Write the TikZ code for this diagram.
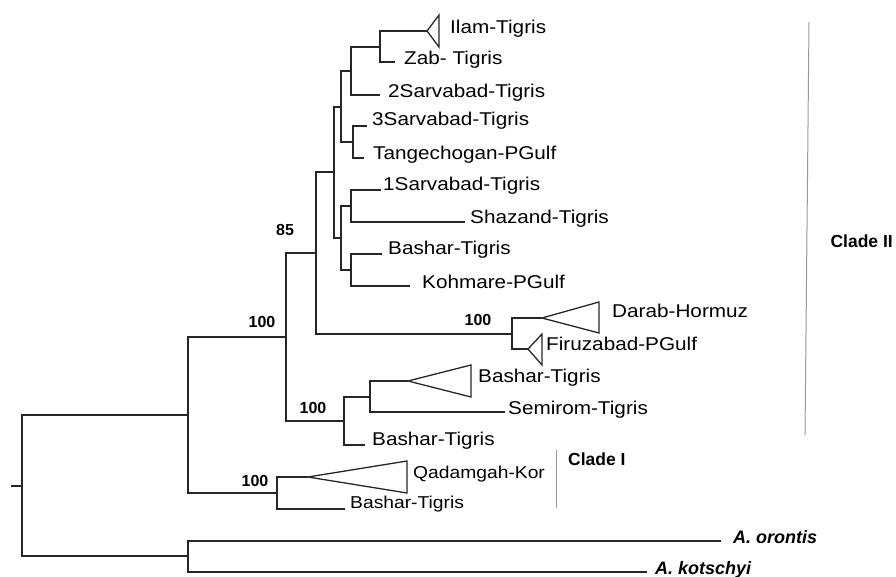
\documentclass[tikz,border=0pt]{standalone}
\usepackage{fontspec}
\setmainfont{Liberation Sans}
\newfontfamily\taxfont{Liberation Sans}[FakeStretch=1.12]
\begin{document}
\begin{tikzpicture}[x=1pt,y=-1pt,
  br/.style={draw=black!85,line width=1.3pt,line join=miter},
  tri/.style={draw=black!85,line width=1.3pt,line join=miter},
  cladeline/.style={draw=black!40,line width=1pt},
  taxon/.style={anchor=mid west,inner sep=0pt,font=\taxfont\fontsize{18.5}{20}\selectfont},
  taxonc/.style={anchor=mid west,inner sep=0pt,font=\taxfont\fontsize{17.2}{19}\selectfont},
  outg/.style={anchor=mid west,inner sep=0pt,font=\fontsize{18}{20}\selectfont\bfseries\itshape},
  boot/.style={inner sep=0pt,font=\fontsize{16}{18}\selectfont\bfseries},
  cladelab/.style={inner sep=0pt,font=\fontsize{17.5}{19}\selectfont\bfseries}]
\useasboundingbox (0,0) rectangle (896,577);
% internal nodes
\coordinate (root) at (22,486);
\coordinate (tick) at (11,486);
\coordinate (n1) at (188,415);
\coordinate (nOut) at (188,556);
\coordinate (n2) at (286,337);
\coordinate (nQ) at (277,493);
\coordinate (n3) at (316,253);
\coordinate (nL) at (344,421);
\coordinate (n4) at (334,172);
\coordinate (nDF) at (512,334);
\coordinate (n5) at (341,107);
\coordinate (n9) at (341,238);
\coordinate (n6) at (351,71);
\coordinate (n8) at (353,142);
\coordinate (n7) at (380,47);
\coordinate (n10) at (351,206);
\coordinate (n11) at (351,270);
\coordinate (nBS) at (370,397);
% tips
\coordinate (tIlam) at (427,31);
\coordinate (tZab) at (395,62);
\coordinate (t2S) at (380,95);
\coordinate (t3S) at (367,126);
\coordinate (tTa) at (364,158);
\coordinate (t1S) at (381,190);
\coordinate (tSh) at (465,222);
\coordinate (tBa) at (382,254);
\coordinate (tKo) at (410,286);
\coordinate (tDa) at (542,318);
\coordinate (tFi) at (528,349);
\coordinate (tBt) at (408,381);
\coordinate (tSe) at (505,412);
\coordinate (tBl) at (365,445);
\coordinate (tQa) at (308,477);
\coordinate (tBq) at (345,509);
\coordinate (tOr) at (721,541);
\coordinate (tKs) at (647,572);
% branches
\draw[br] (tick) -- (root);
\draw[br] (n1) -| (root) |- (nOut);
\draw[br] (n2) -| (n1) |- (nQ);
\draw[br] (tOr) -| (nOut) |- (tKs);
\draw[br] (n3) -| (n2) |- (nL);
\draw[br] (tQa) -| (nQ) |- (tBq);
\draw[br] (n4) -| (n3) |- (nDF);
\draw[br] (nBS) -| (nL) |- (tBl);
\draw[br] (tBt) -| (nBS) |- (tSe);
\draw[br] (tDa) -| (nDF) |- (tFi);
\draw[br] (n5) -| (n4) |- (n9);
\draw[br] (n6) -| (n5) |- (n8);
\draw[br] (n7) -| (n6) |- (t2S);
\draw[br] (tIlam) -| (n7) |- (tZab);
\draw[br] (t3S) -| (n8) |- (tTa);
\draw[br] (n10) -| (n9) |- (n11);
\draw[br] (t1S) -| (n10) |- (tSh);
\draw[br] (tBa) -| (n11) |- (tKo);
% collapsed clades
\draw[tri] (tIlam) -- (439,15) -- (439,47) -- cycle;
\draw[tri] (tDa) -- (599,302) -- (599,333) -- cycle;
\draw[tri] (tFi) -- (542,334) -- (542,365) -- cycle;
\draw[tri] (tBt) -- (471,365) -- (471,397) -- cycle;
\draw[tri] (tQa) -- (407,461) -- (407,493) -- cycle;
% taxon labels
\node[taxon] (lIlam) at (450,31) {Ilam-Tigris};
\node[taxon] (lZab) at (404,62) {Zab- Tigris};
\node[taxon] (l2S) at (388,95) {2Sarvabad-Tigris};
\node[taxon] (l3S) at (372,123) {3Sarvabad-Tigris};
\node[taxon] (lTa) at (373,157) {Tangechogan-PGulf};
\node[taxon] (l1S) at (383,188) {1Sarvabad-Tigris};
\node[taxon] (lSh) at (470,221) {Shazand-Tigris};
\node[taxon] (lBa) at (388,252) {Bashar-Tigris};
\node[taxon] (lKo) at (422,286) {Kohmare-PGulf};
\node[taxon] (lDa) at (612,315) {Darab-Hormuz};
\node[taxon] (lFi) at (546,348) {Firuzabad-PGulf};
\node[taxon] (lBt) at (478,380) {Bashar-Tigris};
\node[taxon] (lSe) at (508,412) {Semirom-Tigris};
\node[taxon] (lBl) at (372,443) {Bashar-Tigris};
\node[taxonc] (lQa) at (413,476) {Qadamgah-Kor};
\node[taxonc] (lBq) at (350,506) {Bashar-Tigris};
\node[outg] (lOr) at (733,541) {A. orontis};
\node[outg] (lKs) at (655,572) {A. kotschyi};
% support values
\node[boot] (b1) at (262,322) {100};
\node[boot] (b2) at (285,230) {85};
\node[boot] (b3) at (478,320) {100};
\node[boot] (b4) at (313,408) {100};
\node[boot] (b5) at (255,481) {100};
% clade bars
\coordinate (c2a) at (809,22);
\coordinate (c2b) at (805,435);
\draw[cladeline] (c2a) -- (c2b);
\node[cladelab,anchor=mid east] (lC2) at (893,245) {Clade II};
\coordinate (c1a) at (556,450);
\coordinate (c1b) at (556,508);
\draw[cladeline] (c1a) -- (c1b);
\node[cladelab,anchor=mid west] (lC1) at (568,463) {Clade I};
\end{tikzpicture}
\end{document}
